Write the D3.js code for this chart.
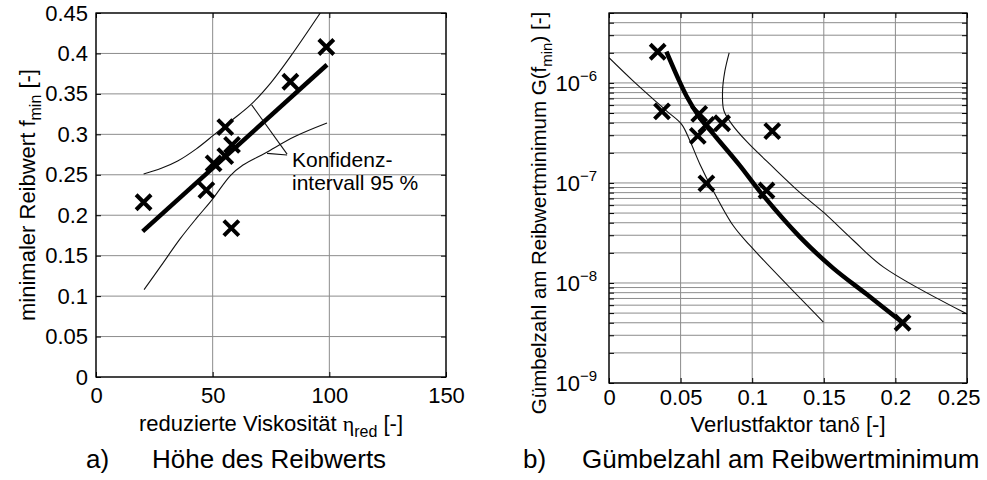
<!DOCTYPE html>
<html>
<head>
<meta charset="utf-8">
<script src="https://cdn.jsdelivr.net/npm/d3@7"></script>
<style>
body { margin: 0; background: #fff; }
svg { font-family: 'Liberation Sans', Arial, sans-serif; }
</style>
</head>
<body>
<div class="chart"></div>
<script>
// a) minimaler Reibwert über reduzierter Viskosität
var viscosity   = [20.4, 47.3, 50.4, 55.4, 55.4, 58.3, 58.0, 83.3, 98.7];
var frictionMin = [0.216, 0.231, 0.264, 0.309, 0.273, 0.287, 0.184, 0.365, 0.408];
var fitA   = [[20, 0.180], [99, 0.386]];
var upperA = [[20.4, 0.251], [28, 0.258], [35, 0.267], [43, 0.282], [50.4, 0.299], [57.6, 0.316],
              [66.1, 0.336], [75, 0.364], [83.3, 0.396], [96.1, 0.45]];
var lowerA = [[20.6, 0.108], [28, 0.138], [36.1, 0.171], [43, 0.196], [49.7, 0.219], [57.6, 0.249],
              [63, 0.262], [72.6, 0.277], [85, 0.297], [99, 0.314]];
var leaderA = [[[66.7, 0.3365], [81.9, 0.2755]], [[73.3, 0.2765], [81.9, 0.2745]]];
var noteA = { x: 84, lines: [['Konfidenz-', 0.260], ['intervall 95 %', 0.231]] };
var xTicksA = [0, 50, 100, 150];
var yTicksA = [0, 0.05, 0.1, 0.15, 0.2, 0.25, 0.3, 0.35, 0.4, 0.45];

// b) Gümbelzahl am Reibwertminimum über Verlustfaktor
var lossFactor = [0.034, 0.037, 0.063, 0.062, 0.068, 0.079, 0.114, 0.068, 0.110, 0.205];
var gumbel     = [2.05e-6, 5.2e-7, 4.9e-7, 2.95e-7, 3.8e-7, 3.95e-7, 3.3e-7, 9.9e-8, 8.4e-8, 4.0e-9];
var fitB   = [[0.0401, 2.05e-6], [0.0541, 7.4e-7], [0.0634, 4.5e-7], [0.0751, 2.83e-7], [0.0914, 1.49e-7],
              [0.1054, 8.2e-8], [0.1334, 2.87e-8], [0.1567, 1.40e-8], [0.18, 7.7e-9], [0.2045, 4.07e-9]];
var upperB = [[0.0839, 2.0e-6], [0.0809, 1.31e-6], [0.0793, 8.3e-7], [0.0802, 5.3e-7], [0.0856, 3.9e-7],
              [0.0961, 2.6e-7], [0.1147, 1.43e-7], [0.1334, 8.0e-8], [0.1497, 5.1e-8], [0.1707, 2.66e-8],
              [0.1917, 1.44e-8], [0.25, 4.9e-9]];
var lowerB = [[0, 1.79e-6], [0.0168, 1.05e-6], [0.0401, 5.26e-7], [0.0506, 3.87e-7], [0.0565, 2.64e-7],
              [0.0634, 1.55e-7], [0.0727, 8.4e-8], [0.0867, 3.75e-8], [0.0984, 2.37e-8], [0.1497, 4.07e-9]];
var xTicksB = [0, 0.05, 0.1, 0.15, 0.2, 0.25];
var yDecadesB = [-9, -8, -7, -6];

var fontFamily = "'Liberation Sans', Arial, sans-serif";
var gridColor = '#8c8c8c';

var svg = d3.select('.chart')
    .append('svg')
    .attr('width', 987)
    .attr('height', 480);

var panelA = { left: 96, top: 13, width: 350, height: 364 };
var panelB = { left: 609, top: 13, width: 358, height: 370 };

var xA = d3.scaleLinear().domain([0, 150]).range([panelA.left, panelA.left + panelA.width]);
var yA = d3.scaleLinear().domain([0, 0.45]).range([panelA.top + panelA.height, panelA.top]);
var xB = d3.scaleLinear().domain([0, 0.25]).range([panelB.left, panelB.left + panelB.width]);
var yB = d3.scaleLog().domain([1e-9, 5e-6]).range([panelB.top + panelB.height, panelB.top]);

function drawGrid(g, xs, ys, xv, yv) {
    g.append('g').selectAll('line').data(xv).enter().append('line')
        .attr('x1', d => xs(d)).attr('x2', d => xs(d))
        .attr('y1', ys.range()[0]).attr('y2', ys.range()[1])
        .attr('stroke', gridColor).attr('stroke-width', 1);
    g.append('g').selectAll('line').data(yv).enter().append('line')
        .attr('y1', d => ys(d)).attr('y2', d => ys(d))
        .attr('x1', xs.range()[0]).attr('x2', xs.range()[1])
        .attr('stroke', gridColor).attr('stroke-width', 1);
}

function styleAxis(g) {
    g.attr('font-size', 22).attr('font-family', fontFamily);
    g.select('.domain').remove();
    g.selectAll('.tick line').attr('stroke', '#000');
    g.selectAll('.tick text').attr('fill', '#000');
}

function drawAxes(g, xs, ys, xv, yv, padX, yLabels) {
    var x0 = xs.range()[0], x1 = xs.range()[1];
    var y0 = ys.range()[0], y1 = ys.range()[1];
    var bottom = g.append('g').attr('transform', `translate(0, ${y0})`)
        .call(d3.axisBottom(xs).tickValues(xv).tickSize(-5).tickSizeOuter(0).tickPadding(padX).tickFormat(d => d))
        .call(styleAxis);
    g.append('g').attr('transform', `translate(0, ${y1})`)
        .call(d3.axisTop(xs).tickValues(xv).tickSize(-5).tickSizeOuter(0).tickFormat(''))
        .call(styleAxis);
    g.append('g').attr('transform', `translate(${x0}, 0)`)
        .call(d3.axisLeft(ys).tickValues(yv).tickSize(-5).tickSizeOuter(0).tickPadding(8)
            .tickFormat(yLabels ? (d => d) : ''))
        .call(styleAxis);
    g.append('g').attr('transform', `translate(${x1}, 0)`)
        .call(d3.axisRight(ys).tickValues(yv).tickSize(-5).tickSizeOuter(0).tickFormat(''))
        .call(styleAxis);
    g.append('rect')
        .attr('x', x0).attr('y', y1)
        .attr('width', x1 - x0).attr('height', y0 - y1)
        .attr('fill', 'none').attr('stroke', '#000').attr('stroke-width', 1.3);
    return bottom;
}

function clipFor(id, xs, ys) {
    svg.append('clipPath').attr('id', id).append('rect')
        .attr('x', xs.range()[0]).attr('y', ys.range()[1])
        .attr('width', xs.range()[1] - xs.range()[0])
        .attr('height', ys.range()[0] - ys.range()[1]);
    return 'url(#' + id + ')';
}

var crossPath = 'M-7.5,-7.5L7.5,7.5M-7.5,7.5L7.5,-7.5';

// ---------- panel a ----------
var gA = svg.append('g');
drawGrid(gA, xA, yA, xTicksA, yTicksA);

var lineA = d3.line().x(d => xA(d[0])).y(d => yA(d[1])).curve(d3.curveCatmullRom.alpha(0.5));
var clipA = clipFor('clipA', xA, yA);

gA.append('g').attr('clip-path', clipA).selectAll('path')
    .data([upperA, lowerA]).enter().append('path')
    .attr('d', lineA).attr('fill', 'none').attr('stroke', '#111').attr('stroke-width', 1.1);

gA.append('path').datum(fitA).attr('d', lineA)
    .attr('fill', 'none').attr('stroke', '#000').attr('stroke-width', 4.5);

gA.append('g').selectAll('path').data(leaderA).enter().append('path')
    .attr('d', d3.line().x(d => xA(d[0])).y(d => yA(d[1])))
    .attr('fill', 'none').attr('stroke', '#111').attr('stroke-width', 1.1);

gA.append('g').selectAll('text').data(noteA.lines).enter().append('text')
    .attr('x', xA(noteA.x)).attr('y', d => yA(d[1]))
    .attr('font-size', 21).attr('fill', '#000')
    .text(d => d[0]);

gA.append('g').selectAll('path').data(viscosity).enter().append('path')
    .attr('transform', (d, i) => `translate(${xA(d)}, ${yA(frictionMin[i])})`)
    .attr('d', crossPath).attr('stroke', '#000').attr('stroke-width', 4).attr('fill', 'none');

drawAxes(gA, xA, yA, xTicksA, yTicksA, 10, true);

// ---------- panel b ----------
var gB = svg.append('g');
var minorB = yB.ticks();
drawGrid(gB, xB, yB, xTicksB, minorB);

var lineB = d3.line().x(d => xB(d[0])).y(d => yB(d[1])).curve(d3.curveCatmullRom.alpha(0.5));
var clipB = clipFor('clipB', xB, yB);

gB.append('g').attr('clip-path', clipB).selectAll('path')
    .data([upperB, lowerB]).enter().append('path')
    .attr('d', lineB).attr('fill', 'none').attr('stroke', '#111').attr('stroke-width', 1.1);

gB.append('path').datum(fitB).attr('d', lineB)
    .attr('fill', 'none').attr('stroke', '#000').attr('stroke-width', 4.5);

gB.append('g').selectAll('path').data(lossFactor).enter().append('path')
    .attr('transform', (d, i) => `translate(${xB(d)}, ${yB(gumbel[i])})`)
    .attr('d', crossPath).attr('stroke', '#000').attr('stroke-width', 4).attr('fill', 'none');

var bottomB = drawAxes(gB, xB, yB, xTicksB, minorB, 6, false);
// last tick label pulled inside the picture, as in the original
bottomB.selectAll('.tick text').filter(d => d === 0.25).attr('text-anchor', 'end').attr('dx', 13);

var decLabels = gB.append('g').selectAll('text').data(yDecadesB).enter().append('text')
    .attr('x', panelB.left - 12).attr('y', d => yB(Math.pow(10, d)))
    .attr('dy', '0.35em').attr('text-anchor', 'end')
    .attr('font-size', 22).attr('fill', '#000');
decLabels.append('tspan').text('10');
decLabels.append('tspan').attr('dy', -10).attr('font-size', 15).text(d => '\u2212' + Math.abs(d));

// ---------- axis titles ----------
var t;
t = svg.append('text').attr('x', xA(75)).attr('y', 431).attr('text-anchor', 'middle').attr('font-size', 22);
t.append('tspan').text('reduzierte Viskosität ');
t.append('tspan').attr('font-family', "'Liberation Serif', serif").text('η');
t.append('tspan').attr('dy', 6).attr('font-size', 16).text('red');
t.append('tspan').attr('dy', -6).text(' [-]');

t = svg.append('text').attr('transform', `translate(35, ${yA(0.225)}) rotate(-90)`)
    .attr('text-anchor', 'middle').attr('font-size', 22);
t.append('tspan').text('minimaler Reibwert f');
t.append('tspan').attr('dy', 6).attr('font-size', 16).text('min');
t.append('tspan').attr('dy', -6).text(' [-]');

t = svg.append('text').attr('x', xB(0.125)).attr('y', 432).attr('text-anchor', 'middle').attr('font-size', 22);
t.append('tspan').text('Verlustfaktor tan');
t.append('tspan').attr('font-family', "'Liberation Serif', serif").text('δ');
t.append('tspan').text(' [-]');

t = svg.append('text').attr('transform', 'translate(546, 213) rotate(-90)')
    .attr('text-anchor', 'middle').attr('font-size', 20.5);
t.append('tspan').text('Gümbelzahl am Reibwertminimum G(f');
t.append('tspan').attr('dy', 6).attr('font-size', 15).text('min');
t.append('tspan').attr('dy', -6).text(') [-]');

// ---------- panel captions ----------
var captions = [
    { x: 86, text: 'a)' }, { x: 152, text: 'Höhe des Reibwerts' },
    { x: 523, text: 'b)' }, { x: 582, text: 'Gümbelzahl am Reibwertminimum' }
];
svg.append('g').selectAll('text').data(captions).enter().append('text')
    .attr('x', d => d.x).attr('y', 468)
    .attr('font-size', 26).attr('fill', '#000')
    .text(d => d.text);
</script>
</body>
</html>
